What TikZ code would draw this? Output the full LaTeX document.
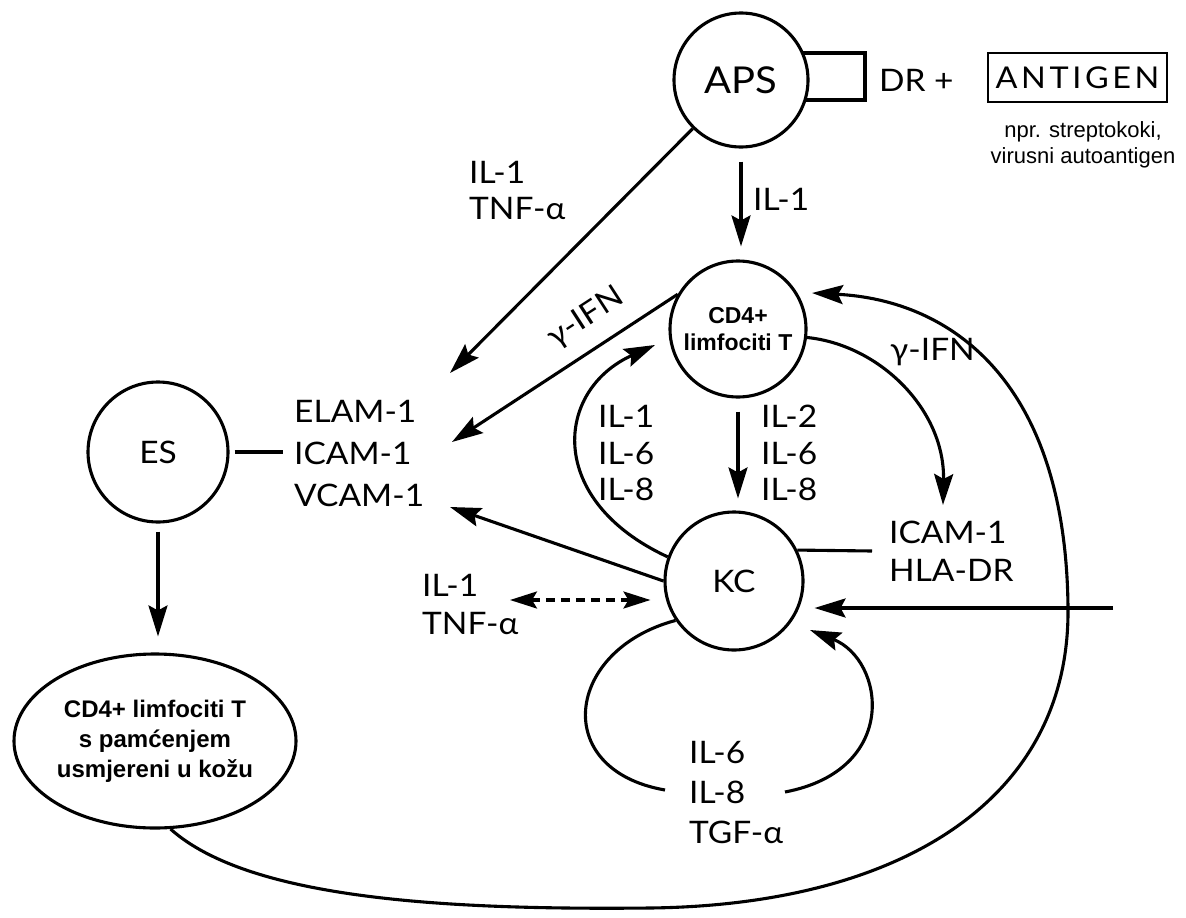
\documentclass[tikz,border=0pt]{standalone}
\usepackage{fontspec}
\setmainfont{Lato}[FakeStretch=1.08]
\newfontfamily\arialf{Liberation Sans}
\usetikzlibrary{arrows.meta,shapes.geometric}
\newcommand\lfs[1]{\fontsize{31}{#1}\selectfont}
\tikzset{
 ln/.style={line width=3.1pt},
 arr/.style={ln,-{Stealth[length=31pt,width=19pt,inset=5pt]}},
 darr/.style={ln,{Stealth[length=27pt,width=17pt,inset=5pt]}-{Stealth[length=27pt,width=17pt,inset=5pt]},dash pattern=on 9pt off 6pt},
 cell/.style={circle,draw,ln,inner sep=0pt,fill=white,font=\lfs{36}},
 lbl/.style={inner sep=0pt,anchor=west,align=left},
}
\begin{document}
\begin{tikzpicture}[x=1pt,y=-1pt]
\useasboundingbox (0,0) rectangle (1186,918);
% nodes
\node[draw,ln,minimum width=106pt,minimum height=47pt,inner sep=0pt] (drbox) at (812,76.5) {};
\node[cell,minimum size=134pt,font=\fontsize{37}{40}\selectfont] (aps) at (741,80) {APS};
\node[lbl,font=\lfs{36}] (dr) at (879,80) {DR +};
\node[draw,line width=2.6pt,minimum width=179pt,minimum height=49pt,inner sep=0pt,font=\fontsize{30}{36}\selectfont\addfontfeature{LetterSpace=12}] (ag) at (1077.5,77.5) {ANTIGEN};
\node[align=center,inner sep=0pt,font=\arialf\fontsize{22}{26}\selectfont] (npr) at (1083,145) {npr. streptokoki,\\virusni autoantigen};
\node[cell,minimum size=136pt,align=center,font=\arialf\bfseries\fontsize{23}{27}\selectfont] (cd4) at (738,329) {CD4+\\limfociti T};
\node[cell,minimum size=138pt] (kc) at (734,581) {KC};
\node[cell,minimum size=140pt] (es) at (158,452) {ES};
\node[ellipse,draw,ln,fill=white,minimum width=282pt,minimum height=174pt,inner sep=0pt,align=center,font=\arialf\bfseries\fontsize{24}{30}\selectfont] (mem) at (155,741) {CD4+ limfociti T\\s pamćenjem\\usmjereni u kožu};
% labels
\node[lbl,font=\lfs{36}] (t1) at (469,190) {IL-1\\TNF-α};
\node[lbl,font=\lfs{38}] (t2) at (753,199) {IL-1};
\node[font=\lfs{38},inner sep=0pt,rotate=33] (t3) at (586,318) {γ-IFN};
\node[lbl,font=\lfs{38}] (t4) at (890,352) {γ-IFN};
\node[lbl,font=\lfs{42}] (t5) at (294,453) {ELAM-1\\ICAM-1\\VCAM-1};
\node[lbl,font=\lfs{36.5}] (t6) at (598,453) {IL-1\\IL-6\\IL-8};
\node[lbl,font=\lfs{36.5}] (t7) at (761,453) {IL-2\\IL-6\\IL-8};
\node[lbl,font=\lfs{38}] (t8) at (889,551) {ICAM-1\\HLA-DR};
\node[lbl,font=\lfs{38}] (t9) at (422,604) {IL-1\\TNF-α};
\node[lbl,font=\lfs{40}] (t10) at (689,793) {IL-6\\IL-8\\TGF-α};
% coordinates
\coordinate (cEs) at (450,373);
\coordinate (cGl) at (452,442);
\coordinate (cCd4in) at (655,345);
\coordinate (cVcam) at (450,507);
\coordinate (cTnf) at (510,600);
\coordinate (cIcam) at (872,551);
\coordinate (cElam) at (283,452);
\coordinate (cIcamTop) at (943,505);
\coordinate (cRight) at (1113,608);
\coordinate (cLoopL) at (665,790);
\coordinate (cLoopR) at (785,792);
\coordinate (cKcIn) at (810,630);
\coordinate (cCd4R) at (812,293);
% connectors
\draw[arr] (aps) -- (cEs);
\draw[arr,shorten <=13pt,shorten >=13pt] (aps.south) -- (aps.south |- cd4.north);
\draw[arr] (cd4.150) -- (cGl);
\draw[arr] (kc.160) .. controls (545,500) and (555,390) .. (cCd4in);
\draw[arr,shorten <=13pt,shorten >=12pt] (cd4.south) -- (cd4.south |- kc.north);
\draw[arr] (kc.west) -- (cVcam);
\draw[darr,shorten >=13pt] (cTnf) -- (kc.west |- cTnf);
\draw[ln] (kc.26) -- (cIcam);
\draw[ln,shorten <=5pt] (es.east) -- (cElam);
\draw[arr,shorten <=8pt,shorten >=16pt] (es.south) -- (es.south |- mem.north);
\draw[arr] (cd4.-7) .. controls (880,345) and (945,410) .. (cIcamTop);
\draw[arr,shorten >=10pt] (cRight) -- (kc.east |- cRight);
\draw[ln] (kc.214) .. controls (565,650) and (550,770) .. (cLoopL);
\draw[arr] (cLoopR) .. controls (900,770) and (885,660) .. (cKcIn);
\draw[arr] (mem.-80) .. controls (250,900) and (450,910) .. (650,908)
  .. controls (900,905) and (1070,800) .. (1068,608)
  .. controls (1066,380) and (950,300) .. (cCd4R);
\end{tikzpicture}
\end{document}
